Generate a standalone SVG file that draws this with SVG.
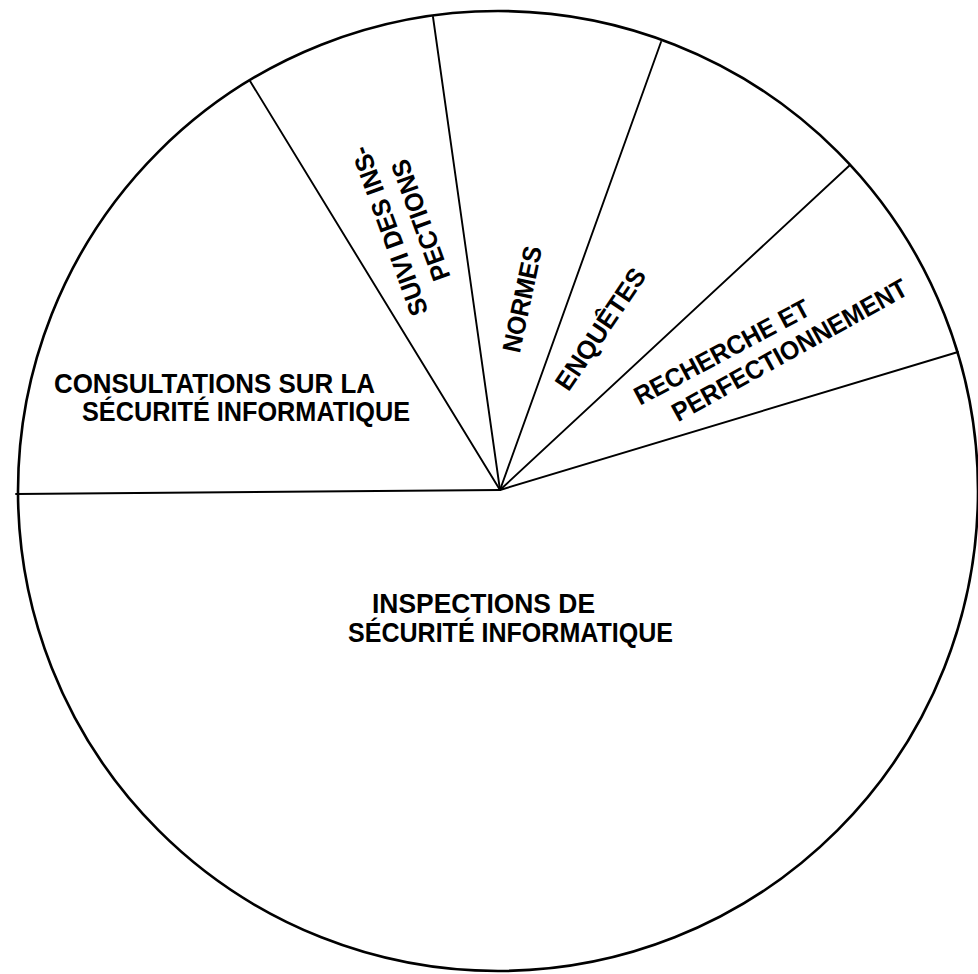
<svg xmlns="http://www.w3.org/2000/svg" width="978" height="974" viewBox="0 0 978 974">
  <style>
    .rim { fill: #ffffff; stroke: #000000; stroke-width: 2.6; }
    .spoke { stroke: #000000; stroke-width: 1.9; stroke-linecap: round; fill: none; }
    .lbl { font-family: "Liberation Sans", Arial, Helvetica, sans-serif; font-weight: bold; fill: #000000; }
    .h { font-size: 28px; }
    .r { font-size: 26px; text-anchor: middle; }
  </style>
  <rect width="978" height="974" fill="#ffffff"/>

  <!-- pie outline -->
  <g id="pie">
    <circle class="rim" cx="498" cy="491" r="480"/>
  </g>

  <!-- slice boundaries radiating from the centre -->
  <g id="connectors">
    <line class="spoke" x1="500" y1="490" x2="16" y2="494"/>
    <line class="spoke" x1="500" y1="490" x2="250" y2="81"/>
    <line class="spoke" x1="500" y1="490" x2="433" y2="17"/>
    <line class="spoke" x1="500" y1="490" x2="661" y2="42"/>
    <line class="spoke" x1="500" y1="490" x2="850" y2="165"/>
    <line class="spoke" x1="500" y1="490" x2="958" y2="352"/>
  </g>

  <g id="consultations">
    <text class="lbl h" x="54" y="393" textLength="321" lengthAdjust="spacingAndGlyphs">CONSULTATIONS SUR LA</text>
    <text class="lbl h" x="82" y="421" textLength="328" lengthAdjust="spacingAndGlyphs">SÉCURITÉ INFORMATIQUE</text>
  </g>

  <g id="suivi">
    <text class="lbl r" transform="translate(398 228) rotate(-110)" textLength="178" lengthAdjust="spacingAndGlyphs">SUIVI DES INS-</text>
    <text class="lbl r" transform="translate(429 217) rotate(-110)" textLength="127" lengthAdjust="spacingAndGlyphs">PECTIONS</text>
  </g>

  <g id="normes">
    <text class="lbl r" transform="translate(531 301) rotate(-78)" textLength="108" lengthAdjust="spacingAndGlyphs">NORMES</text>
  </g>

  <g id="enquetes">
    <text class="lbl r" transform="translate(608 334) rotate(-56)" textLength="141" lengthAdjust="spacingAndGlyphs">ENQUÊTES</text>
  </g>

  <g id="recherche">
    <text class="lbl r" transform="translate(726 360) rotate(-28)" textLength="195" lengthAdjust="spacingAndGlyphs">RECHERCHE ET</text>
    <text class="lbl r" transform="translate(794 358) rotate(-29)" textLength="265" lengthAdjust="spacingAndGlyphs">PERFECTIONNEMENT</text>
  </g>

  <g id="inspections">
    <text class="lbl h" x="372" y="613" textLength="223" lengthAdjust="spacingAndGlyphs">INSPECTIONS DE</text>
    <text class="lbl h" x="348" y="642" textLength="325" lengthAdjust="spacingAndGlyphs">SÉCURITÉ INFORMATIQUE</text>
  </g>
</svg>
